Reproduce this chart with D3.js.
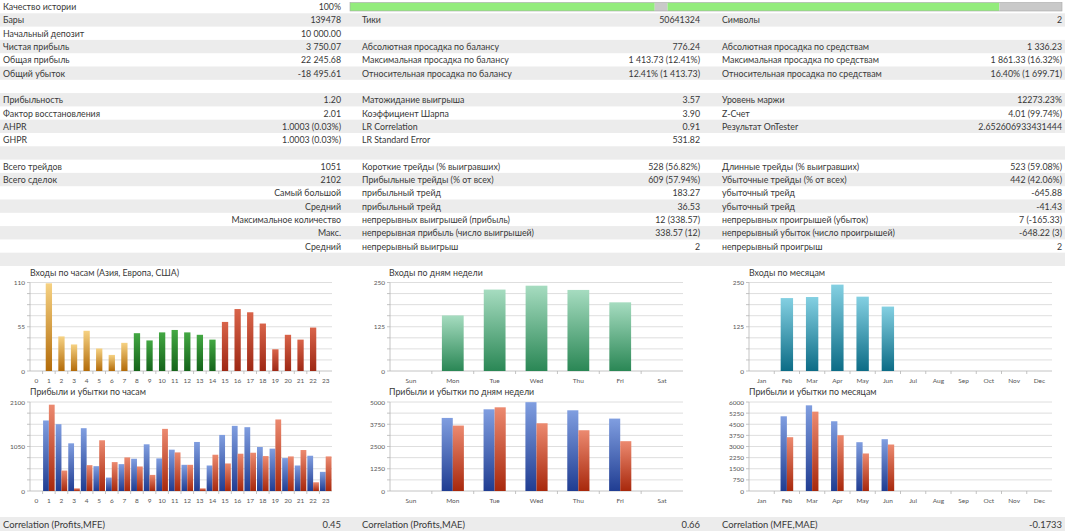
<!DOCTYPE html>
<html>
<head>
<meta charset="utf-8">
<script src="https://cdn.jsdelivr.net/npm/d3@7"></script>
<style>
  html, body { margin: 0; padding: 0; background: #fff; }
  svg { display: block; font-family: Lato, "Open Sans", sans-serif; }
</style>
</head>
<body>
<svg id="report"></svg>
<script>
// ---- table data ----
const col1Labels = ["Качество истории", "Бары", "Начальный депозит", "Чистая прибыль", "Общая прибыль", "Общий убыток", "",
  "Прибыльность", "Фактор восстановления", "AHPR", "GHPR", "", "Всего трейдов", "Всего сделок", "", "", "", "", "", ""];
const col1Values = ["100%", "139478", "10 000.00", "3 750.07", "22 245.68", "-18 495.61", "",
  "1.20", "2.01", "1.0003 (0.03%)", "1.0003 (0.03%)", "", "1051", "2102",
  "Самый большой", "Средний", "Максимальное количество", "Макс.", "Средний", ""];
const col2Labels = ["", "Тики", "", "Абсолютная просадка по балансу", "Максимальная просадка по балансу",
  "Относительная просадка по балансу", "", "Матожидание выигрыша", "Коэффициент Шарпа", "LR Correlation",
  "LR Standard Error", "", "Короткие трейды (% выигравших)", "Прибыльные трейды (% от всех)",
  "прибыльный трейд", "прибыльный трейд", "непрерывных выигрышей (прибыль)",
  "непрерывная прибыль (число выигрышей)", "непрерывный выигрыш", ""];
const col2Values = ["", "50641324", "", "776.24", "1 413.73 (12.41%)", "12.41% (1 413.73)", "",
  "3.57", "3.90", "0.91", "531.82", "", "528 (56.82%)", "609 (57.94%)", "183.27", "36.53",
  "12 (338.57)", "338.57 (12)", "2", ""];
const col3Labels = ["", "Символы", "", "Абсолютная просадка по средствам", "Максимальная просадка по средствам",
  "Относительная просадка по средствам", "", "Уровень маржи", "Z-Счет", "Результат OnTester", "", "",
  "Длинные трейды (% выигравших)", "Убыточные трейды (% от всех)", "убыточный трейд", "убыточный трейд",
  "непрерывных проигрышей (убыток)", "непрерывный убыток (число проигрышей)", "непрерывный проигрыш", ""];
const col3Values = ["", "2", "", "1 336.23", "1 861.33 (16.32%)", "16.40% (1 699.71)", "",
  "12273.23%", "4.01 (99.74%)", "2.652606933431444", "", "", "523 (59.08%)", "442 (42.06%)",
  "-645.88", "-41.43", "7 (-165.33)", "-648.22 (3)", "2", ""];

// history quality bar segments (percent of bar), good / missing
const qualitySegments = [42.8, 1.8, 46.6, 8.8];
const qualityKinds = ["ok", "gap", "ok", "gap"];

// ---- chart data ----
const hourLabels = ["0", "1", "2", "3", "4", "5", "6", "7", "8", "9", "10", "11", "12", "13", "14", "15",
  "16", "17", "18", "19", "20", "21", "22", "23"];
const hourSession = ["asia", "asia", "asia", "asia", "asia", "asia", "asia", "asia",
  "europe", "europe", "europe", "europe", "europe", "europe", "europe",
  "usa", "usa", "usa", "usa", "usa", "usa", "usa", "usa", "usa"];
const hourEntries = [0, 109, 43, 33, 50, 28, 20, 35, 47, 38, 48, 51, 48, 45, 39, 61, 77, 73, 59, 27, 45, 39, 54, 0];
const hourProfits = [0, 1664, 1577, 1125, 1482, 586, 317, 634, 761, 1102, 769, 975, 618, 1157, 602, 1323,
  1537, 1506, 1038, 999, 777, 602, 832, 452];
const hourLosses = [0, 2037, 483, 63, 610, 1197, 682, 793, 579, 380, 1466, 911, 618, 63, 856, 650,
  880, 903, 824, 1688, 816, 967, 206, 816];

const dayLabels = ["Sun", "Mon", "Tue", "Wed", "Thu", "Fri", "Sat"];
const dayEntries = [0, 157, 230, 241, 229, 194, 0];
const dayProfits = [0, 4105, 4590, 4990, 4534, 4068, 0];
const dayLosses = [0, 3676, 4702, 3806, 3414, 2799, 0];

const monthLabels = ["Jan", "Feb", "Mar", "Apr", "May", "Jun", "Jul", "Aug", "Sep", "Oct", "Nov", "Dec"];
const monthEntries = [0, 206, 209, 244, 210, 182, 0, 0, 0, 0, 0, 0];
const monthProfits = [0, 5037, 5776, 4702, 3291, 3493, 0, 0, 0, 0, 0, 0];
const monthLosses = [0, 3627, 5351, 3761, 2530, 3134, 0, 0, 0, 0, 0, 0];

const hourEntryTicks = [0, 55, 110];
const hourPLTicks = [0, 1050, 2100];
const dayEntryTicks = [0, 125, 250];
const dayPLTicks = [0, 1250, 2500, 3750, 5000];
const monthEntryTicks = [0, 125, 250];
const monthPLTicks = [0, 750, 1500, 2250, 3000, 3750, 4500, 5250, 6000];

const correlationLabels = ["Correlation (Profits,MFE)", "Correlation (Profits,MAE)", "Correlation (MFE,MAE)"];
const correlationValues = ["0.45", "0.66", "-0.1733"];

// ---- layout ----
const W = 1065, H = 531;
const rowH = 13.3;
const textColor = "#383838";
const stripe = "#ececec";
const colX = [
  { label: 3, value: 341 },
  { label: 362, value: 700 },
  { label: 722, value: 1062 },
];

const svg = d3.select("#report").attr("width", W).attr("height", H);

// gradients: lighter at the top of the bar, darker at the bottom
const palette = {
  asia: ["#f6d283", "#b36b08"],
  europe: ["#43a843", "#15641a"],
  usa: ["#d9644a", "#9e2814"],
  profit: ["#809ee0", "#203d92"],
  loss: ["#ec8a70", "#a8280c"],
  day: ["#a6dcc0", "#2a8755"],
  month: ["#84d0e2", "#0c6c86"],
};
const defs = svg.append("defs");
Object.entries(palette).forEach(([key, [top, bottom]]) => {
  const g = defs.append("linearGradient").attr("id", `grad-${key}`)
    .attr("x1", 0).attr("y1", 0).attr("x2", 0).attr("y2", 1);
  g.append("stop").attr("offset", "0%").attr("stop-color", top);
  g.append("stop").attr("offset", "100%").attr("stop-color", bottom);
});

// ---- table ----
const table = svg.append("g").attr("font-size", 8.8).attr("fill", textColor);
d3.range(20).forEach((i) => {
  if (i % 2 === 1) {
    table.append("rect").attr("x", 0).attr("y", i * rowH).attr("width", W).attr("height", rowH).attr("fill", stripe);
  }
});
const columns = [
  [col1Labels, col1Values],
  [col2Labels, col2Values],
  [col3Labels, col3Values],
];
columns.forEach(([labels, values], c) => {
  labels.forEach((t, i) => {
    if (!t) return;
    table.append("text").attr("x", colX[c].label).attr("y", i * rowH + rowH / 2)
      .attr("dominant-baseline", "central").text(t);
  });
  values.forEach((t, i) => {
    if (!t) return;
    table.append("text").attr("x", colX[c].value).attr("y", i * rowH + rowH / 2)
      .attr("dominant-baseline", "central").attr("text-anchor", "end").text(t);
  });
});

// history quality bar
const qx = d3.scaleLinear().domain([0, d3.sum(qualitySegments)]).range([350, 1062]);
const qualityBar = svg.append("g");
let acc = 0;
qualitySegments.forEach((v, i) => {
  qualityBar.append("rect")
    .attr("x", qx(acc)).attr("y", 2.5).attr("width", qx(acc + v) - qx(acc)).attr("height", 8.5)
    .attr("fill", qualityKinds[i] === "ok" ? "#93ec7c" : "#c9c9c9");
  acc += v;
});
qualityBar.append("rect").attr("x", 350).attr("y", 2.5).attr("width", 712).attr("height", 8.5)
  .attr("fill", "none").attr("stroke", "#a8a8a8").attr("stroke-width", 0.6);

// ---- charts ----
function drawChart(cfg) {
  const g = svg.append("g");
  const x = d3.scaleBand().domain(cfg.categories).range([cfg.x0, cfg.x1]);
  const y = d3.scaleLinear().domain([0, cfg.maxY]).range([cfg.yBottom, cfg.yTop]);

  // gridlines (8 divisions)
  d3.range(9).forEach((i) => {
    const v = (cfg.maxY * i) / 8;
    g.append("line").attr("x1", cfg.x0).attr("x2", cfg.x1).attr("y1", y(v)).attr("y2", y(v))
      .attr("stroke", i === 0 ? "#b5b5b5" : "#d6d6d6").attr("stroke-width", 0.8);
    g.append("line").attr("x1", cfg.x0 - 3).attr("x2", cfg.x0).attr("y1", y(v)).attr("y2", y(v))
      .attr("stroke", "#b5b5b5").attr("stroke-width", 0.8);
  });
  g.append("line").attr("x1", cfg.x0).attr("x2", cfg.x0).attr("y1", cfg.yTop).attr("y2", cfg.yBottom)
    .attr("stroke", "#b5b5b5").attr("stroke-width", 0.8);

  // x ticks at band edges
  cfg.categories.forEach((c, i) => {
    if (i === 0) return;
    const xe = x(c);
    g.append("line").attr("x1", xe).attr("x2", xe).attr("y1", cfg.yBottom).attr("y2", cfg.yBottom + 3)
      .attr("stroke", "#b5b5b5").attr("stroke-width", 0.8);
  });

  // y tick labels
  g.append("g").selectAll("text").data(cfg.yTicks).join("text")
    .attr("x", cfg.x0 - 5).attr("y", (d) => y(d))
    .attr("text-anchor", "end").attr("dominant-baseline", "central")
    .attr("font-size", 6.5).attr("fill", "#555").text((d) => d);

  // x labels
  g.append("g").selectAll("text").data(cfg.categories).join("text")
    .attr("x", (d) => x(d) + x.bandwidth() / 2).attr("y", cfg.yBottom + 9)
    .attr("text-anchor", "middle").attr("dominant-baseline", "central")
    .attr("font-size", 6.5).attr("fill", "#555").text((d) => d);

  // bars
  const groupW = x.bandwidth() * cfg.groupFrac;
  const n = cfg.series.length;
  const barW = groupW / n;
  cfg.series.forEach((s, k) => {
    g.append("g").selectAll("rect").data(s.values).join("rect")
      .attr("x", (d, i) => x(cfg.categories[i]) + (x.bandwidth() - groupW) / 2 + k * barW)
      .attr("y", (d) => y(d))
      .attr("width", barW)
      .attr("height", (d) => y(0) - y(d))
      .attr("fill", (d, i) => `url(#grad-${s.color(i)})`);
  });

  g.append("text").attr("x", cfg.titleX).attr("y", cfg.yTop - 7)
    .attr("font-size", 8.8).attr("fill", textColor).text(cfg.title);
}

const topY = { yTop: 282.5, yBottom: 371 };
const botY = { yTop: 402, yBottom: 491 };

drawChart({
  ...topY, x0: 30, x1: 332, titleX: 30, title: "Входы по часам (Азия, Европа, США)",
  categories: hourLabels, maxY: 110, yTicks: hourEntryTicks, groupFrac: 0.5,
  series: [{ values: hourEntries, color: (i) => hourSession[i] }],
});
drawChart({
  ...botY, x0: 30, x1: 332, titleX: 30, title: "Прибыли и убытки по часам",
  categories: hourLabels, maxY: 2100, yTicks: hourPLTicks, groupFrac: 0.92,
  series: [{ values: hourProfits, color: () => "profit" }, { values: hourLosses, color: () => "loss" }],
});
drawChart({
  ...topY, x0: 390, x1: 683, titleX: 389, title: "Входы по дням недели",
  categories: dayLabels, maxY: 250, yTicks: dayEntryTicks, groupFrac: 0.52,
  series: [{ values: dayEntries, color: () => "day" }],
});
drawChart({
  ...botY, x0: 390, x1: 683, titleX: 389, title: "Прибыли и убытки по дням недели",
  categories: dayLabels, maxY: 5000, yTicks: dayPLTicks, groupFrac: 0.53,
  series: [{ values: dayProfits, color: () => "profit" }, { values: dayLosses, color: () => "loss" }],
});
drawChart({
  ...topY, x0: 749, x1: 1052, titleX: 749, title: "Входы по месяцам",
  categories: monthLabels, maxY: 250, yTicks: monthEntryTicks, groupFrac: 0.49,
  series: [{ values: monthEntries, color: () => "month" }],
});
drawChart({
  ...botY, x0: 749, x1: 1052, titleX: 749, title: "Прибыли и убытки по месяцам",
  categories: monthLabels, maxY: 6000, yTicks: monthPLTicks, groupFrac: 0.5,
  series: [{ values: monthProfits, color: () => "profit" }, { values: monthLosses, color: () => "loss" }],
});

// ---- correlation row ----
const corr = svg.append("g").attr("font-size", 9.4).attr("fill", textColor);
corr.append("rect").attr("x", 0).attr("y", 517).attr("width", W).attr("height", H - 517).attr("fill", stripe);
correlationLabels.forEach((t, c) => {
  corr.append("text").attr("x", colX[c].label).attr("y", 524.5).attr("dominant-baseline", "central").text(t);
  corr.append("text").attr("x", colX[c].value).attr("y", 524.5).attr("dominant-baseline", "central")
    .attr("text-anchor", "end").text(correlationValues[c]);
});
</script>
</body>
</html>
